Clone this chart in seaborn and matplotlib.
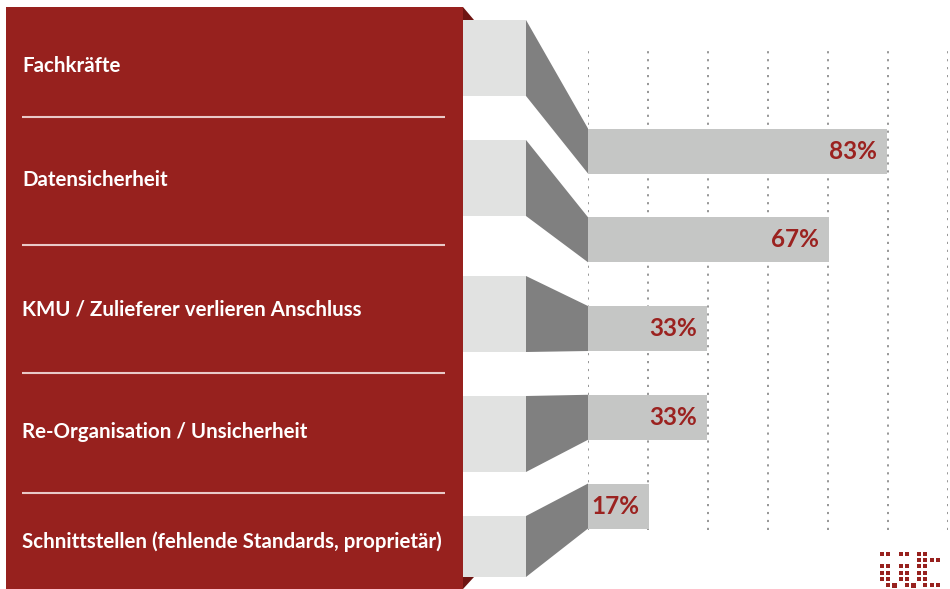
import numpy as np
import matplotlib
matplotlib.use("Agg")
import matplotlib.pyplot as plt
from matplotlib.patches import Rectangle, Polygon
import seaborn as sns
import pandas as pd

# ---- data ----
categories = [
    "Fachkräfte",
    "Datensicherheit",
    "KMU / Zulieferer verlieren Anschluss",
    "Re-Organisation / Unsicherheit",
    "Schnittstellen (fehlende Standards, proprietär)",
]
values = [83, 67, 33, 33, 17]
value_labels = ["83%", "67%", "33%", "33%", "17%"]
grid_steps = 6  # dotted gridlines every 1/6

# ---- style ----
RED = "#97211E"
DARK_RED = "#6E1512"
TEXT_RED = "#9B2220"
TAB = "#E1E2E1"
CONNECT = "#808080"
BAR = "#C5C6C5"
GRID = "#8F8F8F"

sns.set_theme(style="white")
plt.rcParams["font.family"] = ["Lato", "DejaVu Sans"]

W, H = 950, 589
fig = plt.figure(figsize=(W / 100, H / 100), dpi=100)

# background axes in pixel coordinates (layout only)
bg = fig.add_axes([0, 0, 1, 1])
bg.set_xlim(0, W)
bg.set_ylim(H, 0)
bg.axis("off")

# bar axes
bar_left, bar_w = 588, 360
bar_top, bar_bot = 46, 530
ax = fig.add_axes([bar_left / W, (H - bar_bot) / H, bar_w / W, (bar_bot - bar_top) / H])
ax.patch.set_alpha(0)

df = pd.DataFrame({"cat": categories, "val": values})
bar_h = 0.507
sns.barplot(data=df, x="val", y="cat", orient="h", color=BAR, width=bar_h,
            saturation=1, ax=ax, zorder=3)
for p in ax.patches:
    p.set_edgecolor("none")
ax.set_xlim(0, 100)
ax.set_ylim(4.27, -(151 - bar_top) / 88.75)
ax.set_xticks(np.arange(grid_steps + 1) * 100 / grid_steps)
ax.set_yticks([])
ax.set_xticklabels([])
ax.tick_params(length=0)
ax.set_xlabel("")
ax.set_ylabel("")
ax.grid(axis="x", color=GRID, linestyle=(0, (1.2, 3.2)), linewidth=1.3, zorder=0)
ax.grid(axis="y", visible=False)
for s in ax.spines.values():
    s.set_visible(False)

for i, (v, lab) in enumerate(zip(values, value_labels)):
    ax.annotate(lab, xy=(v, i), xytext=(-10, 0), textcoords="offset pixels",
                ha="right", va="center", color=TEXT_RED, fontsize=17.5,
                fontweight="bold", zorder=5)

# red panel
bg.add_patch(Rectangle((6, 7), 457, H - 7, color=RED, lw=0))
bg.add_patch(Polygon([(463, 7), (474, 20), (463, 20)], closed=True, color=DARK_RED, lw=0))
bg.add_patch(Polygon([(463, 577), (474, 577), (463, 589)], closed=True, color=DARK_RED, lw=0))

label_y = [66, 180, 310, 432, 542]
sep_y = [117, 245, 373, 493]
for y, c in zip(label_y, categories):
    bg.text(22, y, c, color="white", fontsize=14.8, fontweight="bold", ha="left", va="center")
for y in sep_y:
    bg.plot([22, 445], [y, y], color="#E9C9C8", lw=1.5, solid_capstyle="butt")

# tabs + connectors
tab_x0, tab_x1 = 463, 526
tabs = [(20, 96), (140, 216), (276, 352), (396, 472), (516, 577)]
to_bg = bg.transData.inverted()
for i, (t0, t1) in enumerate(tabs):
    bg.add_patch(Rectangle((tab_x0, t0), tab_x1 - tab_x0, t1 - t0, color=TAB, lw=0))
    (bx, by0) = to_bg.transform(ax.transData.transform((0, i - bar_h / 2)))
    (_, by1) = to_bg.transform(ax.transData.transform((0, i + bar_h / 2)))
    bg.add_patch(Polygon([(tab_x1, t0), (bx, by0), (bx, by1), (tab_x1, t1)],
                         closed=True, color=CONNECT, lw=0))

# small pixel logo
logo = [
    "11.11.11..",
    "......1111",
    "11.11.11..",
    "11.11.11..",
    "11.11.11..",
    ".12.12.111",
]
for r, row in enumerate(logo):
    for c, ch in enumerate(row):
        if ch != ".":
            s = 4 if ch == "1" else 5
            bg.add_patch(Rectangle((880 + c * 6.2, 552 + r * 6.2), s, s, color=RED, lw=0))

fig.savefig("out.png", dpi=100)
